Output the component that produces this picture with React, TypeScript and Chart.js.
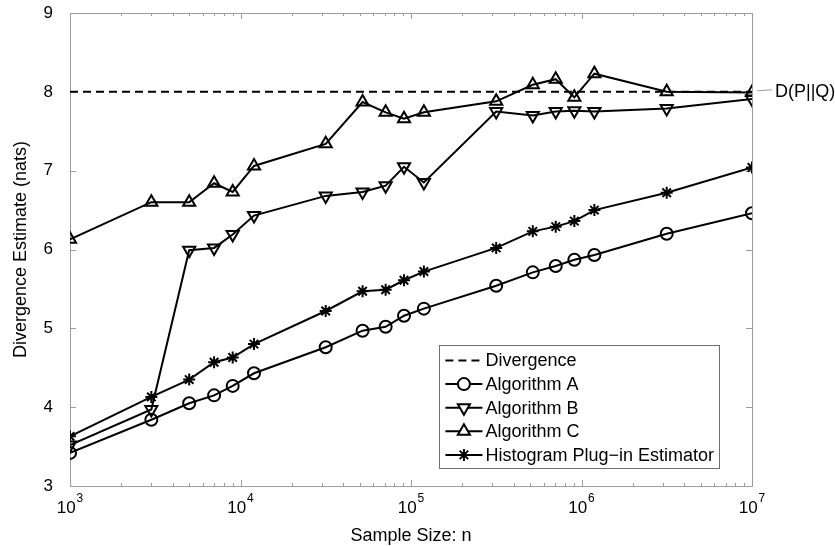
import React, { useEffect, useRef } from 'react';
import { Chart, registerables } from 'chart.js';

Chart.register(...registerables);

// ---- data ----
const sampleSizes = [1e3, 3e3, 5e3, 7e3, 9e3, 1.2e4, 3.16e4, 5.2e4, 7.1e4, 9.1e4, 1.19e5, 3.16e5, 5.18e5, 7.06e5, 9.08e5, 1.19e6, 3.16e6, 1e7];
const divergenceValue = 8;
const algorithmA = [3.42, 3.84, 4.05, 4.15, 4.27, 4.43, 4.76, 4.97, 5.02, 5.16, 5.25, 5.54, 5.71, 5.79, 5.87, 5.93, 6.20, 6.46];
const algorithmB = [3.52, 3.97, 5.99, 6.02, 6.19, 6.43, 6.68, 6.73, 6.81, 7.05, 6.85, 7.75, 7.70, 7.75, 7.76, 7.75, 7.79, 7.91];
const algorithmC = [6.13, 6.60, 6.60, 6.84, 6.73, 7.06, 7.34, 7.87, 7.74, 7.66, 7.74, 7.88, 8.09, 8.16, 7.93, 8.23, 8.00, 7.99];
const histogramPlugin = [3.63, 4.13, 4.35, 4.57, 4.63, 4.80, 5.22, 5.47, 5.49, 5.61, 5.72, 6.02, 6.23, 6.29, 6.36, 6.50, 6.72, 7.04];
const yTickValues = [3, 4, 5, 6, 7, 8, 9];
const xDecades = [3, 4, 5, 6, 7];
const legendLabels = ['Divergence', 'Algorithm A', 'Algorithm B', 'Algorithm C', 'Histogram Plug\u2212in Estimator'];
const xTitle = 'Sample Size: n';
const yTitle = 'Divergence Estimate (nats)';
const divergenceLabel = 'D(P||Q)';

const FONT = '"Liberation Sans", Arial, Helvetica, sans-serif';
const AXIS_GRAY = '#9c9c9c';

type MarkerKind = 'none' | 'circle' | 'triDown' | 'triUp' | 'star';
const markerKinds: MarkerKind[] = ['none', 'circle', 'triDown', 'triUp', 'star'];

function drawMarker(ctx: CanvasRenderingContext2D, kind: MarkerKind, x: number, y: number) {
  ctx.save();
  ctx.strokeStyle = '#000';
  ctx.lineWidth = 2;
  ctx.setLineDash([]);
  ctx.beginPath();
  if (kind === 'circle') {
    ctx.arc(x, y, 6, 0, Math.PI * 2);
    ctx.fillStyle = '#fff';
    ctx.fill();
  } else if (kind === 'triUp' || kind === 'triDown') {
    const r = 7;
    let rad = kind === 'triUp' ? 0 : Math.PI;
    for (let i = 0; i < 3; i++) {
      const px = x + Math.sin(rad) * r;
      const py = y - Math.cos(rad) * r;
      if (i === 0) ctx.moveTo(px, py); else ctx.lineTo(px, py);
      rad += (2 * Math.PI) / 3;
    }
    ctx.closePath();
    ctx.fillStyle = '#fff';
    ctx.fill();
  } else if (kind === 'star') {
    const r = 6;
    for (let k = 0; k < 4; k++) {
      const a = (k * Math.PI) / 4;
      ctx.moveTo(x - Math.cos(a) * r, y - Math.sin(a) * r);
      ctx.lineTo(x + Math.cos(a) * r, y + Math.sin(a) * r);
    }
  }
  ctx.stroke();
  ctx.restore();
}

const matlabPlugin = {
  id: 'matlabAxes',
  beforeDatasetsDraw(chart: any) {
    const { ctx, chartArea, scales } = chart;
    const { left, right, top, bottom } = chartArea;
    const xs = scales.x;
    const ys = scales.y;
    ctx.save();
    ctx.strokeStyle = AXIS_GRAY;
    ctx.lineWidth = 1;
    ctx.strokeRect(Math.round(left) + 0.5, Math.round(top) + 0.5, Math.round(right - left), Math.round(bottom - top));
    ctx.beginPath();
    for (const d of xDecades) {
      for (let m = 1; m <= 9; m++) {
        if (d === xDecades[xDecades.length - 1] && m > 1) break;
        const px = Math.round(xs.getPixelForValue(m * Math.pow(10, d))) + 0.5;
        const len = m === 1 ? 6 : 3;
        ctx.moveTo(px, bottom);
        ctx.lineTo(px, bottom - len);
        ctx.moveTo(px, top);
        ctx.lineTo(px, top + len);
      }
    }
    for (const v of yTickValues) {
      const py = Math.round(ys.getPixelForValue(v)) + 0.5;
      ctx.moveTo(left, py);
      ctx.lineTo(left + 6, py);
      ctx.moveTo(right, py);
      ctx.lineTo(right - 6, py);
    }
    ctx.stroke();
    ctx.restore();
  },
  afterDraw(chart: any) {
    const { ctx, chartArea, scales } = chart;
    const { left, right, top, bottom } = chartArea;
    const xs = scales.x;
    const ys = scales.y;
    ctx.save();
    ctx.fillStyle = '#000';
    // x tick labels 10^n
    for (const d of xDecades) {
      const px = xs.getPixelForValue(Math.pow(10, d));
      ctx.font = `17px ${FONT}`;
      const base = '10';
      const w1 = ctx.measureText(base).width;
      ctx.font = `12px ${FONT}`;
      const exp = String(d);
      const w2 = ctx.measureText(exp).width;
      const start = px - (w1 + w2 + 1) / 2;
      ctx.textAlign = 'left';
      ctx.textBaseline = 'alphabetic';
      ctx.font = `17px ${FONT}`;
      ctx.fillText(base, start, bottom + 27);
      ctx.font = `12px ${FONT}`;
      ctx.fillText(exp, start + w1 + 1, bottom + 16);
    }
    // axis titles
    ctx.font = `18px ${FONT}`;
    ctx.textAlign = 'center';
    ctx.textBaseline = 'middle';
    ctx.fillText(xTitle, (left + right) / 2, bottom + 50);
    ctx.save();
    ctx.translate(21, (top + bottom) / 2);
    ctx.rotate(-Math.PI / 2);
    ctx.fillText(yTitle, 0, 0);
    ctx.restore();

    // divergence annotation
    const py8 = ys.getPixelForValue(divergenceValue);
    ctx.strokeStyle = AXIS_GRAY;
    ctx.lineWidth = 1;
    ctx.beginPath();
    ctx.moveTo(right + 5, py8 - 1);
    ctx.lineTo(right + 20, py8 - 2);
    ctx.stroke();
    ctx.fillStyle = '#000';
    ctx.textAlign = 'left';
    ctx.font = `18px ${FONT}`;
    ctx.fillText(divergenceLabel, right + 23, py8);

    // legend
    ctx.font = `18px ${FONT}`;
    let maxW = 0;
    for (const l of legendLabels) maxW = Math.max(maxW, ctx.measureText(l).width);
    const boxW = 46 + maxW + 5;
    const boxRight = right - 33;
    const boxLeft = boxRight - boxW;
    const boxBottom = bottom - 18;
    const rowH = 23.6;
    const boxH = rowH * legendLabels.length + 5;
    const boxTop = boxBottom - boxH;
    ctx.fillStyle = '#fff';
    ctx.fillRect(boxLeft, boxTop, boxW, boxH);
    ctx.strokeStyle = '#6e6e6e';
    ctx.lineWidth = 1;
    ctx.strokeRect(Math.round(boxLeft) + 0.5, Math.round(boxTop) + 0.5, Math.round(boxW), Math.round(boxH));
    legendLabels.forEach((label, i) => {
      const ry = boxTop + 15.5 + i * rowH;
      const lx1 = boxLeft + 6;
      const lx2 = boxLeft + 43;
      ctx.save();
      ctx.strokeStyle = '#000';
      ctx.lineWidth = 2;
      if (i === 0) ctx.setLineDash([8, 5]);
      ctx.beginPath();
      ctx.moveTo(lx1, ry);
      ctx.lineTo(lx2, ry);
      ctx.stroke();
      ctx.restore();
      drawMarker(ctx, markerKinds[i], (lx1 + lx2) / 2, ry);
      ctx.fillStyle = '#000';
      ctx.textAlign = 'left';
      ctx.textBaseline = 'middle';
      ctx.fillText(label, boxLeft + 46, ry + 1);
    });
    ctx.restore();
  },
};

function pts(vals: number[]) {
  return sampleSizes.map((n, i) => ({ x: n, y: vals[i] }));
}

export default function App() {
  const canvasRef = useRef<HTMLCanvasElement | null>(null);
  useEffect(() => {
    const canvas = canvasRef.current;
    if (!canvas) return;
    const common = {
      borderColor: '#000',
      borderWidth: 2,
      pointBorderColor: '#000',
      pointBackgroundColor: 'rgba(0,0,0,0)',
      pointBorderWidth: 2,
      tension: 0,
      fill: false,
    };
    const chart = new Chart(canvas, {
      type: 'line',
      data: {
        datasets: [
          {
            ...common,
            label: legendLabels[0],
            data: [
              { x: sampleSizes[0], y: divergenceValue },
              { x: sampleSizes[sampleSizes.length - 1], y: divergenceValue },
            ],
            borderDash: [8, 5],
            pointRadius: 0,
          },
          { ...common, label: legendLabels[1], data: pts(algorithmA), pointStyle: 'circle', pointRadius: 6 },
          { ...common, label: legendLabels[2], data: pts(algorithmB), pointStyle: 'triangle', pointRotation: 180, pointRadius: 7 },
          { ...common, label: legendLabels[3], data: pts(algorithmC), pointStyle: 'triangle', pointRadius: 7 },
          { ...common, label: legendLabels[4], data: pts(histogramPlugin), pointStyle: 'star', pointRadius: 6 },
        ],
      } as any,
      options: {
        animation: false,
        responsive: false,
        devicePixelRatio: 1,
        layout: { padding: { top: 13, right: 83, bottom: 60, left: 0 } },
        plugins: { legend: { display: false }, tooltip: { enabled: false } },
        scales: {
          x: {
            type: 'logarithmic',
            min: 1e3,
            max: 1e7,
            display: false,
          },
          y: {
            min: 3,
            max: 9,
            grid: { display: false, drawTicks: false },
            border: { display: false },
            ticks: {
              stepSize: 1,
              padding: 17,
              color: '#000',
              font: { family: FONT, size: 17 },
            },
            afterFit: (scale: any) => {
              scale.width = 70;
              scale.paddingTop = 10;
              scale.paddingBottom = 10;
            },
          },
        },
      } as any,
      plugins: [matlabPlugin],
    });
    return () => chart.destroy();
  }, []);
  return (
    <div style={{ position: 'absolute', left: 0, top: 0, width: 835, height: 546, background: '#fff' }}>
      <canvas ref={canvasRef} width={835} height={546} style={{ display: 'block' }} />
    </div>
  );
}
